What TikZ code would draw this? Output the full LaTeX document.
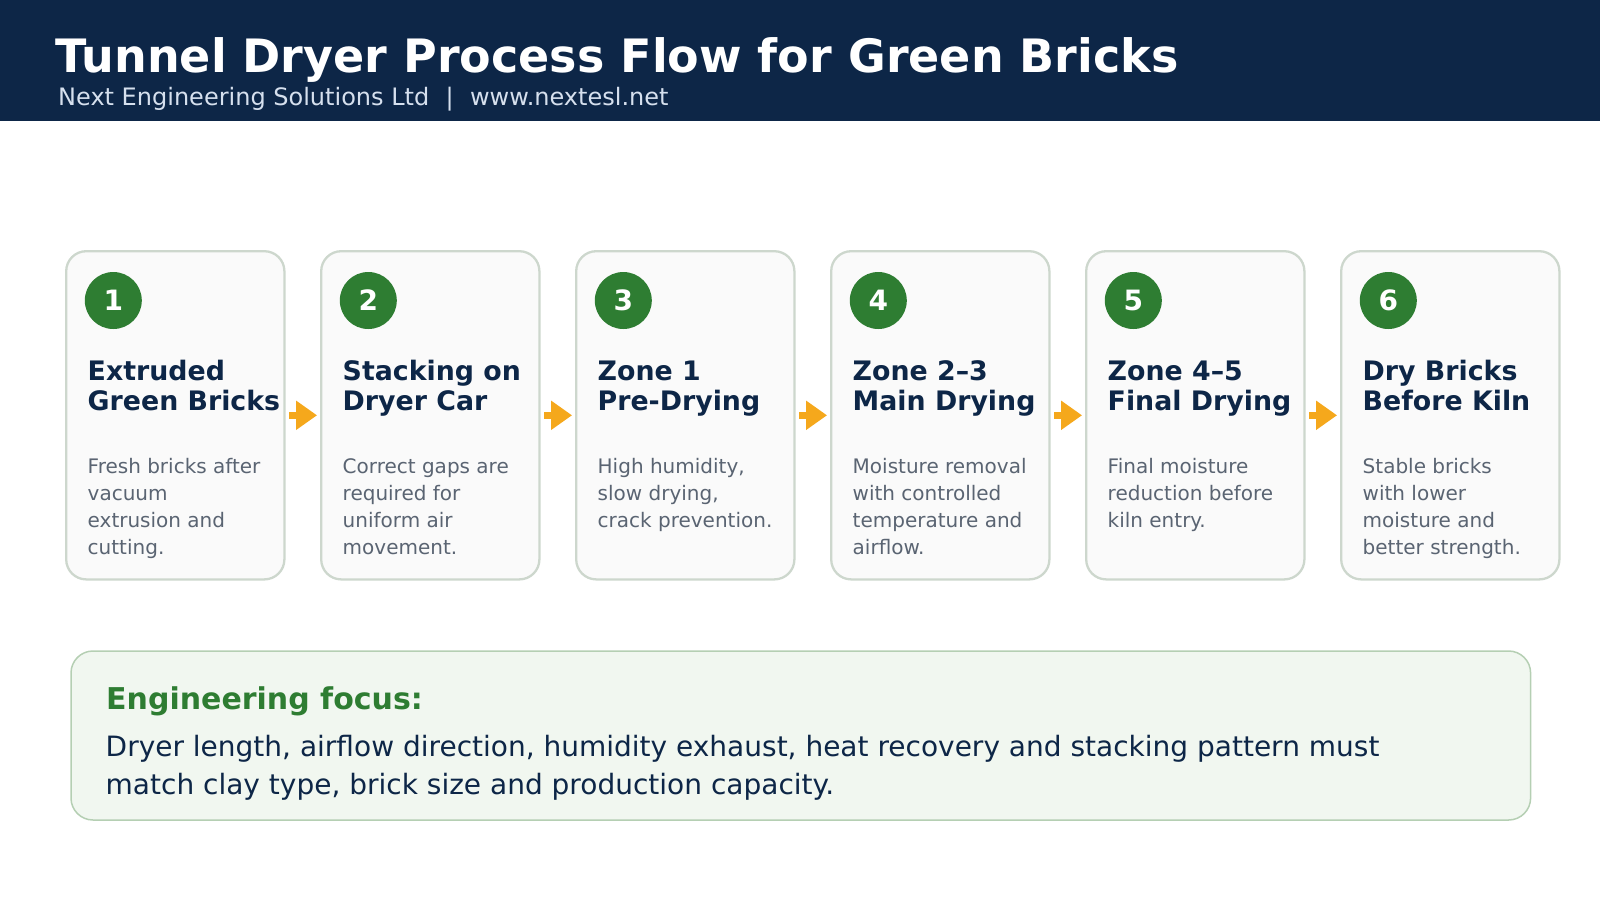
\documentclass[tikz,border=0pt]{standalone}
\usepackage{fontspec}
\setmainfont{DejaVu Sans}
\usepackage{tikz}
\usetikzlibrary{arrows.meta,positioning,calc}
\definecolor{headnavy}{RGB}{13,38,71}
\definecolor{subgrey}{RGB}{214,224,238}
\definecolor{cardfill}{RGB}{250,250,250}
\definecolor{cardline}{RGB}{205,215,205}
\definecolor{badgegreen}{RGB}{46,125,50}
\definecolor{bodygrey}{RGB}{90,100,114}
\definecolor{flowamber}{RGB}{245,168,28}
\definecolor{focusfill}{RGB}{241,247,240}
\definecolor{focusline}{RGB}{181,207,179}

\begin{document}
\begin{tikzpicture}[x=1pt, y=-1pt,
    card/.style={rectangle, rounded corners=20pt, draw=cardline, line width=2.3pt,
                 fill=cardfill, minimum width=218.2pt, minimum height=328.2pt},
    badge/.style={circle, fill=badgegreen, minimum size=57pt, inner sep=0pt,
                  text=white, font=\fontsize{28}{28}\selectfont\bfseries},
    heading/.style={anchor=base west, inner sep=0pt, align=left, text=headnavy,
                    font=\fontsize{26.8}{30}\selectfont\bfseries},
    body/.style={anchor=base west, inner sep=0pt, align=left, text=bodygrey,
                 font=\fontsize{20}{26.9}\selectfont},
    flowarrow/.style={-{Triangle[length=21pt,width=28pt]}, line width=7pt,
                      draw=flowamber, shorten <=3.5pt, shorten >=3pt},
    focusbox/.style={rectangle, rounded corners=22pt, draw=focusline, line width=1.5pt,
                     fill=focusfill, minimum width=1459.6pt, minimum height=169pt}
]
\useasboundingbox (0,0) rectangle (1600,900);

% header band
\fill[headnavy] (0,0) rectangle (1600,121);
\node[anchor=base west, inner sep=0pt, text=white, font=\fontsize{46}{50}\selectfont\bfseries]
    (title) at (55,72.5) {Tunnel Dryer Process Flow for Green Bricks};
\node[anchor=base west, inner sep=0pt, text=subgrey, font=\fontsize{24}{26}\selectfont]
    (sub) at (58,105) {Next Engineering Solutions Ltd\hspace{0.68em}|\hspace{0.68em}www.nextesl.net};

% process cards
\node[card] (c1) at (175.3,415.3) {};
\node[card] (c2) at (430.3,415.3) {};
\node[card] (c3) at (685.3,415.3) {};
\node[card] (c4) at (940.3,415.3) {};
\node[card] (c5) at (1195.3,415.3) {};
\node[card] (c6) at (1450.3,415.3) {};

\node[badge] (n1) at (113.3,300.5) {1};
\node[badge] (n2) at (368.3,300.5) {2};
\node[badge] (n3) at (623.3,300.5) {3};
\node[badge] (n4) at (878.3,300.5) {4};
\node[badge] (n5) at (1133.3,300.5) {5};
\node[badge] (n6) at (1388.3,300.5) {6};

% node base sits on the last line
\node[heading] (h1) at (87.5,410.7)   {Extruded\\Green Bricks};
\node[heading] (h2) at (342.5,410.7)  {Stacking on\\Dryer Car};
\node[heading] (h3) at (597.5,410.7)  {Zone 1\\Pre-Drying};
\node[heading] (h4) at (852.5,410.7)  {Zone 2--3\\Main Drying};
\node[heading] (h5) at (1107.5,410.7) {Zone 4--5\\Final Drying};
\node[heading] (h6) at (1362.5,410.7) {Dry Bricks\\Before Kiln};

\node[body] (b1) at (87.5,554)    {Fresh bricks after\\vacuum\\extrusion and\\cutting.};
\node[body] (b2) at (342.5,554)   {Correct gaps are\\required for\\uniform air\\movement.};
\node[body] (b3) at (597.5,527.1) {High humidity,\\slow drying,\\crack prevention.};
\node[body] (b4) at (852.5,554)   {Moisture removal\\with controlled\\temperature and\\airflow.};
\node[body] (b5) at (1107.5,527.1) {Final moisture\\reduction before\\kiln entry.};
\node[body] (b6) at (1362.5,554)  {Stable bricks\\with lower\\moisture and\\better strength.};

\draw[flowarrow] (c1) -- (c2);
\draw[flowarrow] (c2) -- (c3);
\draw[flowarrow] (c3) -- (c4);
\draw[flowarrow] (c4) -- (c5);
\draw[flowarrow] (c5) -- (c6);

% engineering note
\node[focusbox] (focus) at (800.8,735.5) {};
\node[anchor=base west, inner sep=0pt, text=badgegreen, font=\fontsize{30}{32}\selectfont\bfseries]
    (ftitle) at (106,709) {Engineering focus:};
\node[anchor=base west, inner sep=0pt, align=left, text=headnavy, font=\fontsize{28}{37.3}\selectfont]
    (ftext) at (105.5,794) {Dryer length, airflow direction, humidity exhaust, heat recovery and stacking pattern must\\match clay type, brick size and production capacity.};
\end{tikzpicture}
\end{document}
